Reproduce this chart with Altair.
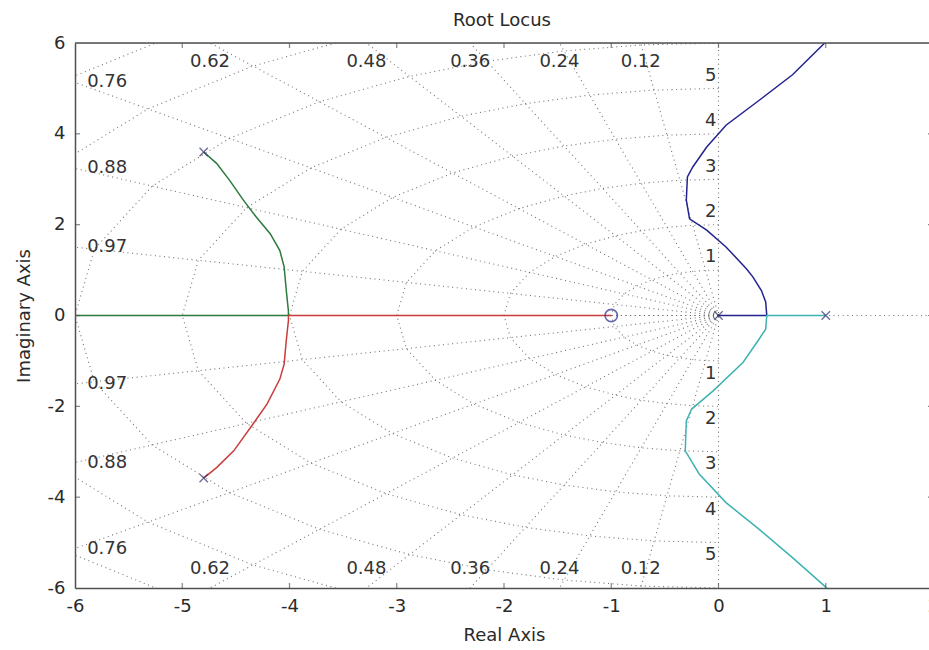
import altair as alt
import numpy as np
import pandas as pd

# ---------------- data ----------------
zeta_values = [0.12, 0.24, 0.36, 0.48, 0.62, 0.76, 0.88, 0.97]   # damping ratio grid lines
wn_values = [1, 2, 3, 4, 5, 6, 7, 8]                              # natural frequency circles
wn_label_values = [1, 2, 3, 4, 5]                                 # labelled circles

pole_re = [-4.80, -4.80, 0.0, 1.0]
pole_im = [3.60, -3.58, 0.0, 0.0]
zero_re = [-1.0]
zero_im = [0.0]

# branch 1 (blue): pole at 0 -> breakaway -> upper right
blue_re = [0.0, 0.45, 0.44, 0.40, 0.32, 0.26, 0.07, -0.11, -0.27, -0.30, -0.29, -0.24, -0.11, 0.07, 0.38, 0.69, 0.99, 1.08]
blue_im = [0.0, 0.0, 0.30, 0.55, 0.85, 1.03, 1.51, 1.88, 2.13, 2.54, 3.05, 3.27, 3.71, 4.19, 4.74, 5.30, 6.00, 6.20]
# branch 2 (green): upper complex pole -> breakin at -4 -> towards -inf
green_re = [-4.80, -4.68, -4.56, -4.43, -4.31, -4.18, -4.09, -4.05, -4.03, -4.01, -4.01, -6.20]
green_im = [3.60, 3.35, 2.98, 2.54, 2.17, 1.80, 1.43, 1.07, 0.55, 0.10, 0.0, 0.0]
# branch 3 (red): lower complex pole -> breakin at -4 -> zero at -1
red_re = [-4.80, -4.68, -4.52, -4.34, -4.21, -4.09, -4.05, -4.03, -4.01, -4.01, -1.0]
red_im = [-3.58, -3.35, -2.98, -2.39, -1.95, -1.40, -1.07, -0.55, -0.11, 0.0, 0.0]
# branch 4 (cyan): pole at 1 -> breakaway -> lower right
cyan_re = [1.0, 0.45, 0.44, 0.37, 0.23, -0.05, -0.25, -0.30, -0.31, -0.18, 0.07, 0.38, 0.69, 0.99, 1.08]
cyan_im = [0.0, 0.0, -0.30, -0.55, -1.03, -1.66, -2.06, -2.32, -2.98, -3.49, -4.12, -4.71, -5.33, -5.96, -6.15]

branch_names = ["b1", "b2", "b3", "b4"]
branch_colors = ["#23238f", "#2c7a3c", "#cc3b3b", "#3fb2b2"]

x_ticks = [-6, -5, -4, -3, -2, -1, 0, 1, 2]
y_ticks = [-6, -4, -2, 0, 2, 4, 6]
X_DOMAIN = [-6, 2]
Y_DOMAIN = [-6, 6]

FONT = "DejaVu Sans"
TXT = "#2a2a2a"
AX = "#505050"

# ---------------- tables ----------------
rows = []
gid = 0
R = 12.0
for z in zeta_values + [1.0]:
    for s in (1, -1):
        rows.append(dict(x=0.0, y=0.0, g=gid, o=0))
        rows.append(dict(x=-R * z, y=s * R * np.sqrt(1 - z * z), g=gid, o=1))
        gid += 1
# imaginary axis and positive real axis
rows += [dict(x=0.0, y=-12.0, g=gid, o=0), dict(x=0.0, y=12.0, g=gid, o=1)]
gid += 1
rows += [dict(x=0.0, y=0.0, g=gid, o=0), dict(x=3.0, y=0.0, g=gid, o=1)]
gid += 1
zs = [0.0] + zeta_values + [1.0]
for w in wn_values:
    pts = [(-w * z, w * np.sqrt(1 - z * z)) for z in zs]
    pts += [(-w * z, -w * np.sqrt(1 - z * z)) for z in reversed(zs[:-1])]
    for k, (px, py) in enumerate(pts):
        rows.append(dict(x=px, y=py, g=gid, o=k))
    gid += 1
grid_df = pd.DataFrame(rows)

loc_rows = []
for name, xs, ys in zip(branch_names, [blue_re, green_re, red_re, cyan_re],
                        [blue_im, green_im, red_im, cyan_im]):
    for k, (a, b) in enumerate(zip(xs, ys)):
        loc_rows.append(dict(x=a, y=b, branch=name, o=k))
loc_df = pd.DataFrame(loc_rows)

poles_df = pd.DataFrame(dict(x=pole_re, y=pole_im))
zeros_df = pd.DataFrame(dict(x=zero_re, y=zero_im))

zl = []
for z in zeta_values:
    t = z / np.sqrt(1 - z * z)
    if t < 1:
        zl.append(dict(x=-6 * t, y=5.58, t=f"{z:.2f}"))
        zl.append(dict(x=-6 * t, y=-5.58, t=f"{z:.2f}"))
    else:
        zl.append(dict(x=-5.70, y=6 / t, t=f"{z:.2f}"))
        zl.append(dict(x=-5.70, y=-6 / t, t=f"{z:.2f}"))
zeta_lab_df = pd.DataFrame(zl)

wl = []
for w in wn_label_values:
    wl.append(dict(x=-0.02, y=w + 0.28, t=str(w)))
    wl.append(dict(x=-0.02, y=-(w + 0.28), t=str(w)))
wn_lab_df = pd.DataFrame(wl)

tick_rows = []
for v in x_ticks[1:-1]:
    tick_rows.append(dict(x=v, y=Y_DOMAIN[0], d="v"))
    tick_rows.append(dict(x=v, y=Y_DOMAIN[1], d="v"))
for v in y_ticks[1:-1]:
    tick_rows.append(dict(x=X_DOMAIN[0], y=v, d="h"))
    tick_rows.append(dict(x=X_DOMAIN[1], y=v, d="h"))
tick_df = pd.DataFrame(tick_rows)

# ---------------- encodings ----------------
X = alt.X("x:Q",
          scale=alt.Scale(domain=X_DOMAIN, range=[0, 858], nice=False, zero=False),
          axis=alt.Axis(values=x_ticks, title="Real Axis", grid=False, ticks=False, tickSize=0,
                        labelExpr="'' + datum.value",
                        labelPadding=9, titlePadding=11, domainColor=AX, domainWidth=1.5,
                        labelFont=FONT, labelFontSize=18, labelColor=TXT, titleFont=FONT,
                        titleFontSize=18, titleFontWeight="normal", titleColor=TXT,
                        labelFlush=False))
Y = alt.Y("y:Q",
          scale=alt.Scale(domain=Y_DOMAIN, nice=False, zero=False),
          axis=alt.Axis(values=y_ticks, title="Imaginary Axis", grid=False, ticks=False, tickSize=0,
                        labelExpr="'' + datum.value",
                        labelPadding=10, titlePadding=14, domainColor=AX, domainWidth=1.5,
                        labelFont=FONT, labelFontSize=18, labelColor=TXT, titleFont=FONT,
                        titleFontSize=18, titleFontWeight="normal", titleColor=TXT,
                        labelFlush=False))

grid = alt.Chart(grid_df).mark_line(
    clip=True, color="#5a5a5a", strokeWidth=1.1, strokeDash=[1, 3.6], opacity=0.85
).encode(x=X, y=Y, detail="g:N", order="o:Q")

locus = alt.Chart(loc_df).mark_line(clip=True, strokeWidth=1.5).encode(
    x=X, y=Y, detail="branch:N", order="o:Q",
    color=alt.Color("branch:N", scale=alt.Scale(domain=branch_names, range=branch_colors), legend=None))

poles = alt.Chart(poles_df).mark_point(
    shape="M-1,-1L1,1M-1,1L1,-1", size=70, filled=False, color="#2b2b6e", strokeWidth=1.3, clip=True
).encode(x=X, y=Y)

zeros = alt.Chart(zeros_df).mark_point(
    shape="circle", size=150, filled=False, color="#2b2b8a", strokeWidth=1.6, clip=True
).encode(x=X, y=Y)

zlab = alt.Chart(zeta_lab_df).mark_text(
    font=FONT, fontSize=18, color="#333333", align="center", baseline="middle"
).encode(x=X, y=Y, text="t:N")

wlab = alt.Chart(wn_lab_df).mark_text(
    font=FONT, fontSize=18, color="#333333", align="right", baseline="middle"
).encode(x=X, y=Y, text="t:N")

vticks = alt.Chart(tick_df[tick_df.d == "v"]).mark_tick(
    orient="vertical", size=10, thickness=1.2, color=AX, clip=True
).encode(x=X, y=Y)
hticks = alt.Chart(tick_df[tick_df.d == "h"]).mark_tick(
    orient="horizontal", size=10, thickness=1.2, color=AX, clip=True
).encode(x=X, y=Y)

top_border = alt.Chart(pd.DataFrame(dict(a=[X_DOMAIN[0]], b=[X_DOMAIN[1]], c=[Y_DOMAIN[1]]))).mark_rule(
    color=AX, strokeWidth=1.5
).encode(x=alt.X("a:Q", scale=alt.Scale(domain=X_DOMAIN, range=[0, 858], nice=False, zero=False)),
         x2="b:Q", y=alt.Y("c:Q", scale=alt.Scale(domain=Y_DOMAIN, nice=False, zero=False)))

chart = alt.layer(grid, locus, poles, zeros, zlab, wlab, vticks, hticks, top_border).properties(
    width=854, height=545,
    title=alt.TitleParams("Root Locus", font=FONT, fontSize=18, fontWeight="normal", color=TXT,
                          anchor="middle", offset=4),
    autosize=alt.AutoSizeParams(type="none"),
    padding={"left": 75, "top": 43, "right": 0, "bottom": 62},
).configure_view(stroke=None).configure(background="white")

chart.save("out.html", embed_options={"renderer": "svg", "actions": False})
